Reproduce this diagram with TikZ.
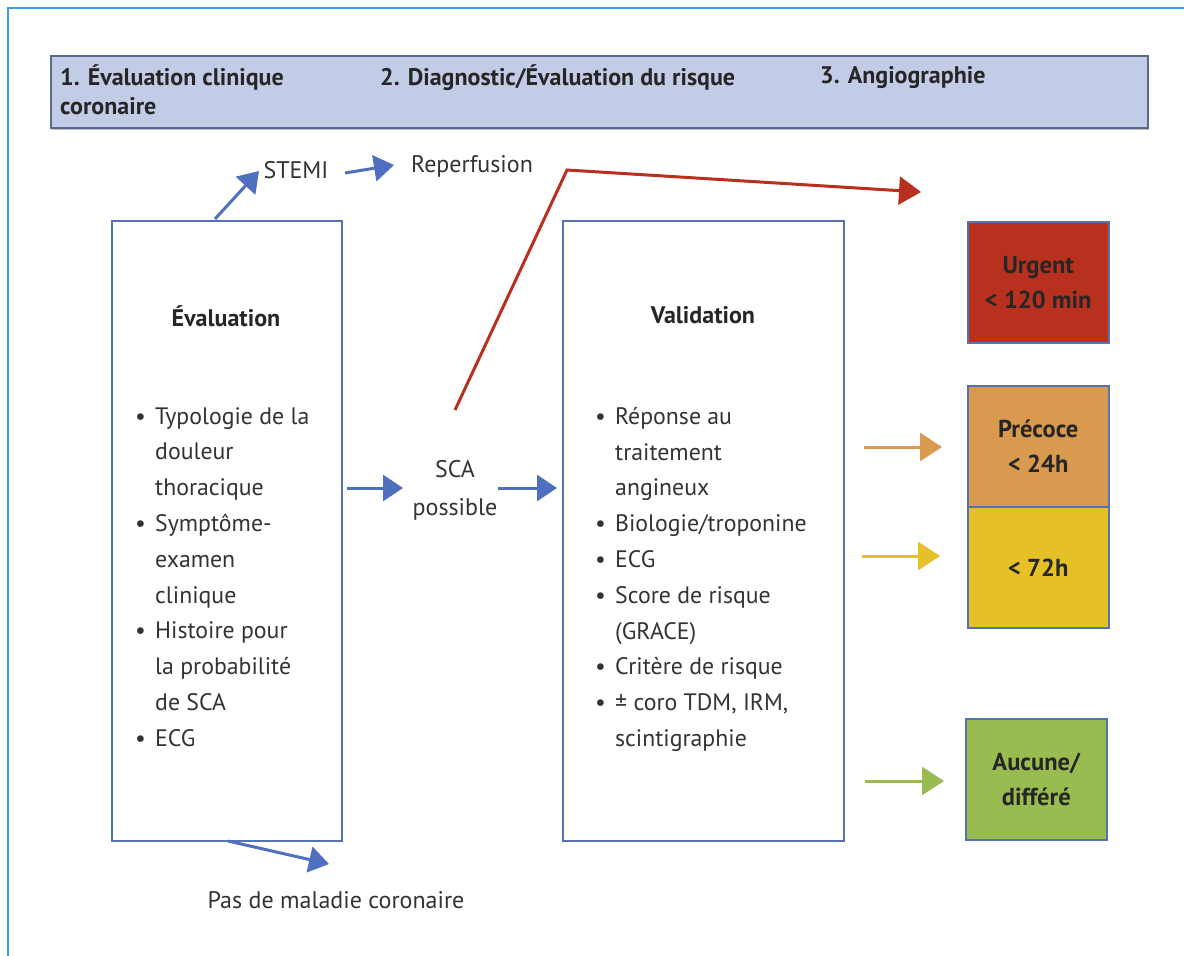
\documentclass[tikz,border=0pt]{standalone}
\usepackage{fontspec}
\setmainfont{PT Sans}
\usetikzlibrary{arrows.meta}
\definecolor{frameblue}{HTML}{3A9BE0}
\definecolor{hdrfill}{HTML}{C3CCE6}
\definecolor{hdrline}{HTML}{5C6890}
\definecolor{boxline}{HTML}{5572B2}
\definecolor{arrblue}{HTML}{4F70BF}
\definecolor{redc}{HTML}{B8301E}
\definecolor{orangec}{HTML}{D9994E}
\definecolor{yellowc}{HTML}{E5C027}
\definecolor{greenc}{HTML}{98BC50}
\definecolor{txt}{HTML}{333333}
\newcommand\bul{\makebox[20pt][l]{\textbullet}}
\newcommand\ind{\hspace*{20pt}}
\begin{document}
\begin{tikzpicture}[x=1pt,y=-1pt,
  whitebox/.style={draw=boxline,line width=1.8pt,fill=white,inner sep=0pt},
  catbox/.style={draw=boxline,line width=1.5pt,minimum width=141pt,minimum height=121pt,inner sep=0pt,
     font=\fontsize{24.5}{35}\selectfont\bfseries,align=center,text=black!85},
  lbl/.style={font=\fontsize{24}{38}\selectfont,text=txt,inner sep=0pt},
  hdrtxt/.style={font=\fontsize{24}{29}\selectfont\bfseries,text=black!85,inner sep=0pt,anchor=base west},
  listtxt/.style={font=\fontsize{23.8}{35.8}\selectfont,text=txt,inner sep=0pt,align=left,anchor=north west},
  ttl/.style={font=\fontsize{24}{28}\selectfont\bfseries,text=black!85,inner sep=0pt},
  barrow/.style={arrblue,line width=3pt,-{Triangle[length=20pt,width=26pt]}},
  carrow/.style={line width=3pt,-{Triangle[length=22pt,width=28pt]}}
]
\useasboundingbox (0,0) rectangle (1184,956);
\fill[white] (0,0) rectangle (1184,956);
\draw[frameblue,line width=2pt] (8,956) -- (8,8) -- (1184,8);

% header
\fill[black!25] (52,57) rectangle (1149,130);
\node[draw=hdrline,fill=hdrfill,line width=2pt,minimum width=1097pt,minimum height=72pt,anchor=north west,inner sep=0pt] (header) at (50,55) {};
\node[hdrtxt] (h1) at (60,85) {1. Évaluation clinique};
\node[hdrtxt] (h1b) at (60,114) {coronaire};
\node[hdrtxt] (h2) at (380,85) {2. Diagnostic/Évaluation du risque};
\node[hdrtxt] (h3) at (820,83) {3. Angiographie};

% left box
\node[whitebox,minimum width=230pt,minimum height=620pt,anchor=north west] (eval) at (111,220) {};
\node[ttl] (evalt) at (226,316) {Évaluation};
\node[listtxt] (evall) at (135,407) {\bul Typologie de la\\\ind douleur\\\ind thoracique\\\bul Symptôme-\\\ind examen\\\ind clinique\\\bul Histoire pour\\\ind la probabilité\\\ind de SCA\\\bul ECG};

% middle box
\node[whitebox,minimum width=281pt,minimum height=620pt,anchor=north west] (valid) at (562,220) {};
\node[ttl] (validt) at (703,315) {Validation};
\node[listtxt] (validl) at (595,407) {\bul Réponse au\\\ind traitement\\\ind angineux\\\bul Biologie/troponine\\\bul ECG\\\bul Score de risque\\\ind (GRACE)\\\bul Critère de risque\\\bul ± coro TDM, IRM,\\\ind scintigraphie};

% labels
\node[lbl] (stemi) at (296,170) {STEMI};
\node[lbl] (reperf) at (472,166) {Reperfusion};
\node[lbl,align=center] (sca) at (455,490) {SCA\\possible};
\node[lbl] (pas) at (336,900) {Pas de maladie coronaire};

% category boxes
\node[catbox,fill=redc,anchor=north west] (urg) at (967,221) {Urgent\\< 120 min};
\node[catbox,fill=orangec,anchor=north west] (prec) at (967,385) {Précoce\\< 24h};
\node[catbox,fill=yellowc,anchor=north west] (h72) at (967,506) {< 72h};
\node[catbox,fill=greenc,anchor=north west] (auc) at (965,718) {Aucune/\\différé};

% coordinates
\coordinate (stemiS) at (215,219);
\coordinate (stemiE) at (259,171);
\coordinate (repS) at (345,173);
\coordinate (repE) at (394,165);
\coordinate (redS) at (455,410);
\coordinate (redM) at (567,170);
\coordinate (redE) at (921,192);
\coordinate (scaL1) at (347,488);
\coordinate (scaL2) at (403,488);
\coordinate (scaR1) at (498,488);
\coordinate (scaR2) at (557,488);
\coordinate (orS) at (864,447);
\coordinate (orE) at (942,447);
\coordinate (yeS) at (862,556);
\coordinate (yeE) at (940,556);
\coordinate (grS) at (865,781);
\coordinate (grE) at (944,781);
\coordinate (pasS) at (228,841);
\coordinate (pasE) at (329,864);

% arrows
\draw[barrow] (stemiS) -- (stemiE);
\draw[barrow] (repS) -- (repE);
\draw[barrow] (scaL1) -- (scaL2);
\draw[barrow] (scaR1) -- (scaR2);
\draw[barrow] (pasS) -- (pasE);
\draw[carrow,redc,line join=miter] (redS) -- (redM) -- (redE);
\draw[carrow,orangec] (orS) -- (orE);
\draw[carrow,yellowc] (yeS) -- (yeE);
\draw[carrow,greenc] (grS) -- (grE);
\end{tikzpicture}
\end{document}
